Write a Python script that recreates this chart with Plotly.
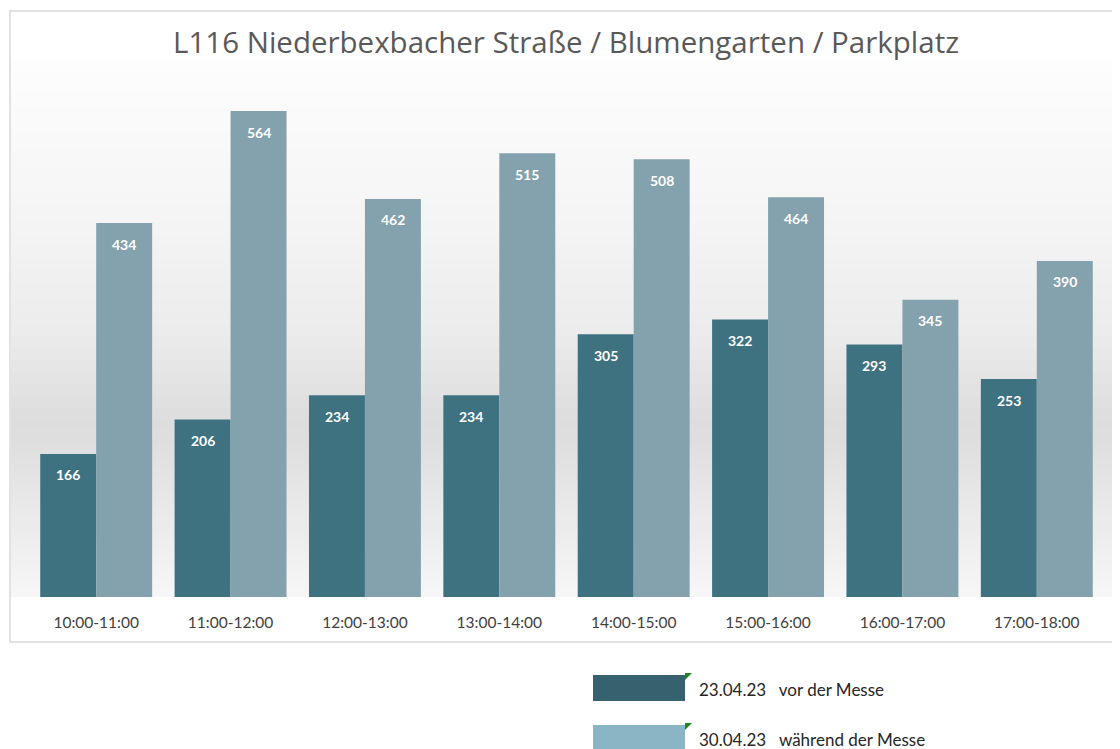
import plotly.graph_objects as go

categories = ["10:00-11:00", "11:00-12:00", "12:00-13:00", "13:00-14:00",
              "14:00-15:00", "15:00-16:00", "16:00-17:00", "17:00-18:00"]
vor_der_messe = [166, 206, 234, 234, 305, 322, 293, 253]
waehrend_der_messe = [434, 564, 462, 515, 508, 464, 345, 390]
series_names = ["23.04.23   vor der Messe", "30.04.23   während der Messe"]
title_text = "L116 Niederbexbacher Straße / Blumengarten / Parkplatz"

# the page body adds an 8px margin, so the figure starts at (8, 8)
OFF = 8
W, H = 1120 - OFF, 749 - OFF
ML, MR, MT, MB = 29 - OFF, 16, 80 - OFF, 152
PW = W - ML - MR
PH = H - MT - MB


def px_x(px):
    """reference screen pixel -> paper x"""
    return (px - OFF - ML) / PW


def px_y(py):
    """reference screen pixel -> paper y"""
    return (H - MB - (py - OFF)) / PH


DARK = "#3e7280"
LIGHT = "#84a2ae"
DARK_LEG = "#36616f"
LIGHT_LEG = "#8ab5c5"

fig = go.Figure()
fig.add_trace(go.Bar(
    x=categories, y=vor_der_messe, name=series_names[0],
    marker=dict(color=DARK, line=dict(width=0)),
))
fig.add_trace(go.Bar(
    x=categories, y=waehrend_der_messe, name=series_names[1],
    marker=dict(color=LIGHT, line=dict(width=0)),
))

annotations = []
# value labels inside the top of each bar
for series, shift in ((vor_der_messe, -28), (waehrend_der_messe, 28)):
    for cat, val in zip(categories, series):
        annotations.append(dict(x=cat, y=val, xref="x", yref="y", xshift=shift,
                                yshift=-21, yanchor="middle", showarrow=False,
                                text=str(val),
                                font=dict(color="white", size=14, family="Lato",
                                          weight="bold")))

shapes = []
# background vertical gradient (styling)
stops = [(60, 253), (200, 246), (330, 236), (420, 221), (450, 223),
         (500, 232), (545, 238), (597, 247)]


def gray_at(y):
    for (y0, g0), (y1, g1) in zip(stops[:-1], stops[1:]):
        if y0 <= y <= y1:
            t = (y - y0) / (y1 - y0)
            return g0 + (g1 - g0) * t
    return stops[-1][1]


band = 6
y = 60
while y < 597:
    y2 = min(y + band, 597)
    g = int(round(gray_at((y + y2) / 2)))
    shapes.append(dict(type="rect", xref="paper", yref="paper", layer="below",
                       x0=px_x(11), x1=px_x(1140), y0=px_y(y2), y1=px_y(y),
                       fillcolor=f"rgb({g},{g},{g})", line=dict(width=0)))
    y = y2

# chart frame (right side runs off the picture)
shapes.append(dict(type="rect", xref="paper", yref="paper", layer="below",
                   x0=px_x(10), x1=px_x(1150), y0=px_y(642), y1=px_y(11),
                   fillcolor="rgba(0,0,0,0)", line=dict(color="#d9d9d9", width=1.5)))

# legend swatches
leg_items = [(series_names[0], DARK_LEG, 675), (series_names[1], LIGHT_LEG, 725)]
for name, col, top in leg_items:
    shapes.append(dict(type="rect", xref="paper", yref="paper",
                       x0=px_x(593), x1=px_x(685), y0=px_y(top + 26), y1=px_y(top),
                       fillcolor=col, line=dict(width=0)))
    shapes.append(dict(type="path", xref="paper", yref="paper",
                       path=f"M {px_x(685)},{px_y(top - 2)} L {px_x(692)},{px_y(top - 2)} "
                            f"L {px_x(685)},{px_y(top + 5)} Z",
                       fillcolor="#1a8a1a", line=dict(width=0)))
    annotations.append(dict(xref="paper", yref="paper", x=px_x(697), y=px_y(top + 14),
                            xanchor="left", yanchor="middle", showarrow=False,
                            text=name, font=dict(family="Lato", size=17, color="#262626")))

annotations.append(dict(xref="paper", yref="paper", x=px_x(566), y=px_y(42),
                        xanchor="center", yanchor="middle", showarrow=False,
                        text=title_text,
                        font=dict(family="Open Sans", size=29.5, color="#595959")))

fig.update_layout(
    width=W, height=H,
    margin=dict(l=ML, r=MR, t=MT, b=MB),
    paper_bgcolor="white", plot_bgcolor="rgba(0,0,0,0)",
    barmode="group", bargap=0.167, bargroupgap=0,
    showlegend=False,
    shapes=shapes, annotations=annotations,
    xaxis=dict(showgrid=False, showline=False, zeroline=False, ticks="",
               tickfont=dict(family="Lato", size=15.5, color="#404040"),
               ticklabelstandoff=14),
    yaxis=dict(range=[0, 600], visible=False, showgrid=False, zeroline=False),
)

fig.write_html("out.html")
